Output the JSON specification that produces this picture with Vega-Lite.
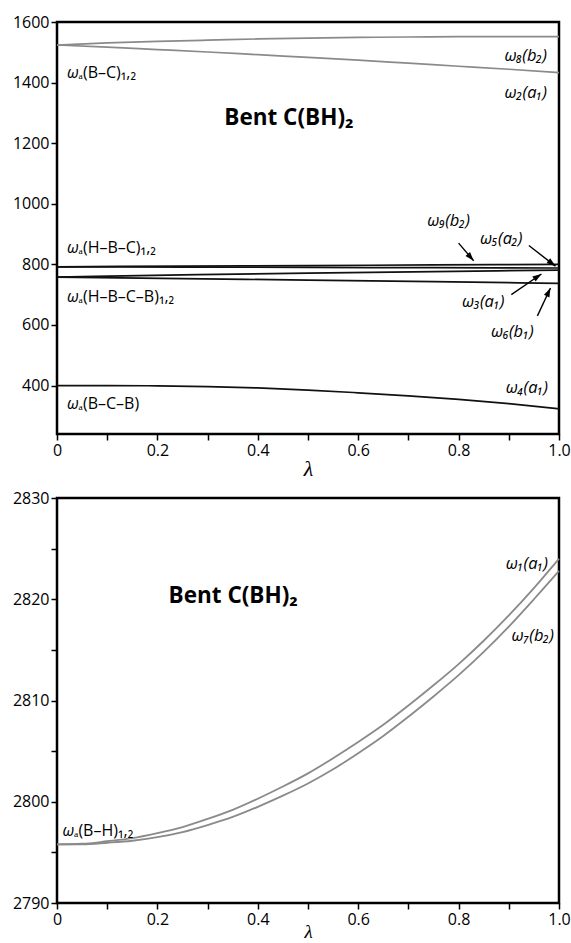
{
  "$schema": "https://vega.github.io/schema/vega-lite/v6.json",
  "padding": {"left": 11, "top": 12, "right": 4, "bottom": 0},
  "datasets": {
    "top_lines": [
      {"mode": "w8", "lam": 0, "val": 1524}, {"mode": "w8", "lam": 0.1, "val": 1531}, {"mode": "w8", "lam": 0.2, "val": 1536}, {"mode": "w8", "lam": 0.3, "val": 1540}, {"mode": "w8", "lam": 0.4, "val": 1544}, {"mode": "w8", "lam": 0.5, "val": 1547}, {"mode": "w8", "lam": 0.6, "val": 1549}, {"mode": "w8", "lam": 0.7, "val": 1550.5}, {"mode": "w8", "lam": 0.8, "val": 1551.5}, {"mode": "w8", "lam": 0.9, "val": 1552}, {"mode": "w8", "lam": 1.0, "val": 1552},
      {"mode": "w2", "lam": 0, "val": 1524}, {"mode": "w2", "lam": 0.1, "val": 1517}, {"mode": "w2", "lam": 0.2, "val": 1509}, {"mode": "w2", "lam": 0.3, "val": 1501}, {"mode": "w2", "lam": 0.4, "val": 1492}, {"mode": "w2", "lam": 0.5, "val": 1483}, {"mode": "w2", "lam": 0.6, "val": 1474}, {"mode": "w2", "lam": 0.7, "val": 1464}, {"mode": "w2", "lam": 0.8, "val": 1454}, {"mode": "w2", "lam": 0.9, "val": 1444}, {"mode": "w2", "lam": 1.0, "val": 1433},
      {"mode": "w9", "lam": 0, "val": 792}, {"mode": "w9", "lam": 0.25, "val": 794}, {"mode": "w9", "lam": 0.5, "val": 796}, {"mode": "w9", "lam": 0.75, "val": 798}, {"mode": "w9", "lam": 1.0, "val": 800},
      {"mode": "w5", "lam": 0, "val": 792}, {"mode": "w5", "lam": 0.25, "val": 791}, {"mode": "w5", "lam": 0.5, "val": 790}, {"mode": "w5", "lam": 0.75, "val": 789}, {"mode": "w5", "lam": 1.0, "val": 788},
      {"mode": "w3", "lam": 0, "val": 758}, {"mode": "w3", "lam": 0.25, "val": 765}, {"mode": "w3", "lam": 0.5, "val": 771}, {"mode": "w3", "lam": 0.75, "val": 776}, {"mode": "w3", "lam": 1.0, "val": 781},
      {"mode": "w6", "lam": 0, "val": 758}, {"mode": "w6", "lam": 0.25, "val": 753}, {"mode": "w6", "lam": 0.5, "val": 748}, {"mode": "w6", "lam": 0.75, "val": 743}, {"mode": "w6", "lam": 1.0, "val": 737},
      {"mode": "w4", "lam": 0, "val": 400}, {"mode": "w4", "lam": 0.1, "val": 400}, {"mode": "w4", "lam": 0.2, "val": 399}, {"mode": "w4", "lam": 0.3, "val": 396.5}, {"mode": "w4", "lam": 0.4, "val": 392}, {"mode": "w4", "lam": 0.5, "val": 385}, {"mode": "w4", "lam": 0.6, "val": 376}, {"mode": "w4", "lam": 0.7, "val": 366}, {"mode": "w4", "lam": 0.8, "val": 354}, {"mode": "w4", "lam": 0.9, "val": 340}, {"mode": "w4", "lam": 1.0, "val": 323}
    ],
    "top_left_labels": [
      {"lam": 0.02, "val": 1433, "sym": "ω", "rest": "ₐ(B–C)₁,₂"},
      {"lam": 0.02, "val": 855, "sym": "ω", "rest": "ₐ(H–B–C)₁,₂"},
      {"lam": 0.02, "val": 693, "sym": "ω", "rest": "ₐ(H–B–C–B)₁,₂"},
      {"lam": 0.02, "val": 338, "sym": "ω", "rest": "ₐ(B–C–B)"}
    ],
    "top_right_labels": [
      {"lam": 0.976, "val": 1489, "label": "ω₈(b₂)"},
      {"lam": 0.976, "val": 1364, "label": "ω₂(a₁)"},
      {"lam": 0.978, "val": 393, "label": "ω₄(a₁)"}
    ],
    "top_center_labels": [
      {"lam": 0.78, "val": 942, "label": "ω₉(b₂)"},
      {"lam": 0.885, "val": 885, "label": "ω₅(a₂)"},
      {"lam": 0.849, "val": 675, "label": "ω₃(a₁)"},
      {"lam": 0.907, "val": 578, "label": "ω₆(b₁)"}
    ],
    "top_title": [{"lam": 0.462, "val": 1283, "label": "Bent C(BH)₂"}],
    "arrows": [
      {"name": "w9", "lam": 0.80, "val": 870, "lam2": 0.83, "val2": 812},
      {"name": "w5", "lam": 0.94, "val": 862, "lam2": 0.993, "val2": 794},
      {"name": "w3", "lam": 0.905, "val": 700, "lam2": 0.965, "val2": 768},
      {"name": "w6", "lam": 0.957, "val": 630, "lam2": 0.983, "val2": 722}
    ],
    "bot_lines": [
      {"mode": "w1", "lam": 0, "val": 2795.8}, {"mode": "w1", "lam": 0.05, "val": 2795.85}, {"mode": "w1", "lam": 0.1, "val": 2796.1}, {"mode": "w1", "lam": 0.15, "val": 2796.4}, {"mode": "w1", "lam": 0.2, "val": 2796.9}, {"mode": "w1", "lam": 0.25, "val": 2797.5}, {"mode": "w1", "lam": 0.3, "val": 2798.3}, {"mode": "w1", "lam": 0.35, "val": 2799.2}, {"mode": "w1", "lam": 0.4, "val": 2800.3}, {"mode": "w1", "lam": 0.45, "val": 2801.5}, {"mode": "w1", "lam": 0.5, "val": 2802.8}, {"mode": "w1", "lam": 0.55, "val": 2804.3}, {"mode": "w1", "lam": 0.6, "val": 2805.9}, {"mode": "w1", "lam": 0.65, "val": 2807.6}, {"mode": "w1", "lam": 0.7, "val": 2809.5}, {"mode": "w1", "lam": 0.75, "val": 2811.5}, {"mode": "w1", "lam": 0.8, "val": 2813.6}, {"mode": "w1", "lam": 0.85, "val": 2815.9}, {"mode": "w1", "lam": 0.9, "val": 2818.4}, {"mode": "w1", "lam": 0.95, "val": 2821.1}, {"mode": "w1", "lam": 1.0, "val": 2824.0},
      {"mode": "w7", "lam": 0, "val": 2795.8}, {"mode": "w7", "lam": 0.05, "val": 2795.8}, {"mode": "w7", "lam": 0.1, "val": 2795.95}, {"mode": "w7", "lam": 0.15, "val": 2796.15}, {"mode": "w7", "lam": 0.2, "val": 2796.5}, {"mode": "w7", "lam": 0.25, "val": 2797.0}, {"mode": "w7", "lam": 0.3, "val": 2797.7}, {"mode": "w7", "lam": 0.35, "val": 2798.5}, {"mode": "w7", "lam": 0.4, "val": 2799.5}, {"mode": "w7", "lam": 0.45, "val": 2800.6}, {"mode": "w7", "lam": 0.5, "val": 2801.8}, {"mode": "w7", "lam": 0.55, "val": 2803.2}, {"mode": "w7", "lam": 0.6, "val": 2804.8}, {"mode": "w7", "lam": 0.65, "val": 2806.5}, {"mode": "w7", "lam": 0.7, "val": 2808.4}, {"mode": "w7", "lam": 0.75, "val": 2810.4}, {"mode": "w7", "lam": 0.8, "val": 2812.5}, {"mode": "w7", "lam": 0.85, "val": 2814.8}, {"mode": "w7", "lam": 0.9, "val": 2817.3}, {"mode": "w7", "lam": 0.95, "val": 2820.0}, {"mode": "w7", "lam": 1.0, "val": 2822.8}
    ],
    "bot_left_labels": [{"lam": 0.011, "val": 2797.1, "sym": "ω", "rest": "ₐ(B–H)₁,₂"}],
    "bot_right_labels": [
      {"lam": 0.978, "val": 2823.5, "label": "ω₁(a₁)"},
      {"lam": 0.99, "val": 2816.4, "label": "ω₇(b₂)"}
    ],
    "bot_title": [{"lam": 0.351, "val": 2820.3, "label": "Bent C(BH)₂"}]
  },
  "vconcat": [
    {
      "width": 502,
      "height": 412,
      "layer": [
        {
          "data": {"name": "top_lines"},
          "mark": {"type": "line", "strokeWidth": 1.7, "interpolate": "monotone"},
          "encoding": {
            "x": {"field": "lam", "type": "quantitative", "scale": {"domain": [0, 1], "nice": false},
              "axis": {"values": [0, 0.1, 0.2, 0.3, 0.4, 0.5, 0.6, 0.7, 0.8, 0.9, 1], "labelExpr": "datum.value === 0 ? '0' : (round(datum.value*10) % 2 === 0 ? format(datum.value, '.1f') : '')", "title": "λ"}},
            "y": {"field": "val", "type": "quantitative", "scale": {"domain": [240, 1600], "nice": false, "zero": false},
              "axis": {"values": [400, 600, 800, 1000, 1200, 1400, 1600], "format": "d", "title": null}},
            "color": {"field": "mode", "type": "nominal", "legend": null,
              "scale": {"domain": ["w8", "w2", "w9", "w5", "w3", "w6", "w4"], "range": ["#8a8a8a", "#8a8a8a", "#111111", "#111111", "#111111", "#111111", "#111111"]}}
          }
        },
        {
          "data": {"name": "top_left_labels"},
          "mark": {"type": "text", "align": "left", "fontSize": 16, "fontStyle": "italic", "font": "Open Sans"},
          "encoding": {"x": {"field": "lam", "type": "quantitative"}, "y": {"field": "val", "type": "quantitative"}, "text": {"field": "sym"}}
        },
        {
          "data": {"name": "top_left_labels"},
          "mark": {"type": "text", "align": "left", "fontSize": 16, "dx": 11.5, "font": "Open Sans"},
          "encoding": {"x": {"field": "lam", "type": "quantitative"}, "y": {"field": "val", "type": "quantitative"}, "text": {"field": "rest"}}
        },
        {
          "data": {"name": "top_right_labels"},
          "mark": {"type": "text", "align": "right", "fontSize": 16.5, "fontStyle": "italic", "font": "Open Sans"},
          "encoding": {"x": {"field": "lam", "type": "quantitative"}, "y": {"field": "val", "type": "quantitative"}, "text": {"field": "label"}}
        },
        {
          "data": {"name": "top_center_labels"},
          "mark": {"type": "text", "align": "center", "fontSize": 16.5, "fontStyle": "italic", "font": "Open Sans"},
          "encoding": {"x": {"field": "lam", "type": "quantitative"}, "y": {"field": "val", "type": "quantitative"}, "text": {"field": "label"}}
        },
        {
          "data": {"name": "top_title"},
          "mark": {"type": "text", "align": "center", "fontSize": 22.5, "fontWeight": "bold", "font": "Open Sans"},
          "encoding": {"x": {"field": "lam", "type": "quantitative"}, "y": {"field": "val", "type": "quantitative"}, "text": {"field": "label"}}
        },
        {
          "data": {"name": "arrows"},
          "mark": {"type": "rule", "color": "black", "strokeWidth": 1.4},
          "encoding": {"x": {"field": "lam", "type": "quantitative"}, "y": {"field": "val", "type": "quantitative"}, "x2": {"field": "lam2"}, "y2": {"field": "val2"}}
        },
        {
          "data": {"name": "arrows"},
          "transform": [{"filter": "datum.name === 'w9'"}],
          "mark": {"type": "point", "shape": "M0,0L-0.6,1.8L0.6,1.8Z", "filled": true, "color": "black", "opacity": 1, "size": 100, "angle": 139},
          "encoding": {"x": {"field": "lam2", "type": "quantitative"}, "y": {"field": "val2", "type": "quantitative"}}
        },
        {
          "data": {"name": "arrows"},
          "transform": [{"filter": "datum.name === 'w5'"}],
          "mark": {"type": "point", "shape": "M0,0L-0.6,1.8L0.6,1.8Z", "filled": true, "color": "black", "opacity": 1, "size": 100, "angle": 128},
          "encoding": {"x": {"field": "lam2", "type": "quantitative"}, "y": {"field": "val2", "type": "quantitative"}}
        },
        {
          "data": {"name": "arrows"},
          "transform": [{"filter": "datum.name === 'w3'"}],
          "mark": {"type": "point", "shape": "M0,0L-0.6,1.8L0.6,1.8Z", "filled": true, "color": "black", "opacity": 1, "size": 100, "angle": 56},
          "encoding": {"x": {"field": "lam2", "type": "quantitative"}, "y": {"field": "val2", "type": "quantitative"}}
        },
        {
          "data": {"name": "arrows"},
          "transform": [{"filter": "datum.name === 'w6'"}],
          "mark": {"type": "point", "shape": "M0,0L-0.6,1.8L0.6,1.8Z", "filled": true, "color": "black", "opacity": 1, "size": 100, "angle": 25},
          "encoding": {"x": {"field": "lam2", "type": "quantitative"}, "y": {"field": "val2", "type": "quantitative"}}
        }
      ]
    },
    {
      "width": 502,
      "height": 405,
      "layer": [
        {
          "data": {"name": "bot_lines"},
          "mark": {"type": "line", "strokeWidth": 1.8, "interpolate": "monotone", "color": "#8a8a8a"},
          "encoding": {
            "x": {"field": "lam", "type": "quantitative", "scale": {"domain": [0, 1], "nice": false},
              "axis": {"values": [0, 0.1, 0.2, 0.3, 0.4, 0.5, 0.6, 0.7, 0.8, 0.9, 1], "labelExpr": "datum.value === 0 ? '0' : (round(datum.value*10) % 2 === 0 ? format(datum.value, '.1f') : '')", "title": "λ", "titlePadding": -5, "titleFontSize": 19}},
            "y": {"field": "val", "type": "quantitative", "scale": {"domain": [2790, 2830], "nice": false, "zero": false},
              "axis": {"values": [2790, 2795, 2800, 2805, 2810, 2815, 2820, 2825, 2830], "labelExpr": "datum.value % 10 === 0 ? format(datum.value, 'd') : ''", "title": null}},
            "detail": {"field": "mode", "type": "nominal"}
          }
        },
        {
          "data": {"name": "bot_left_labels"},
          "mark": {"type": "text", "align": "left", "fontSize": 16, "fontStyle": "italic", "font": "Open Sans"},
          "encoding": {"x": {"field": "lam", "type": "quantitative"}, "y": {"field": "val", "type": "quantitative"}, "text": {"field": "sym"}}
        },
        {
          "data": {"name": "bot_left_labels"},
          "mark": {"type": "text", "align": "left", "fontSize": 16, "dx": 11.5, "font": "Open Sans"},
          "encoding": {"x": {"field": "lam", "type": "quantitative"}, "y": {"field": "val", "type": "quantitative"}, "text": {"field": "rest"}}
        },
        {
          "data": {"name": "bot_right_labels"},
          "mark": {"type": "text", "align": "right", "fontSize": 16.5, "fontStyle": "italic", "font": "Open Sans"},
          "encoding": {"x": {"field": "lam", "type": "quantitative"}, "y": {"field": "val", "type": "quantitative"}, "text": {"field": "label"}}
        },
        {
          "data": {"name": "bot_title"},
          "mark": {"type": "text", "align": "center", "fontSize": 22.5, "fontWeight": "bold", "font": "Open Sans"},
          "encoding": {"x": {"field": "lam", "type": "quantitative"}, "y": {"field": "val", "type": "quantitative"}, "text": {"field": "label"}}
        }
      ]
    }
  ],
  "spacing": 64,
  "bounds": "flush",
  "config": {
    "background": "white",
    "font": "Open Sans",
    "view": {"stroke": "black", "strokeWidth": 2.5},
    "axis": {
      "domain": false, "grid": false,
      "tickColor": "black", "tickWidth": 1.5, "tickSize": 6,
      "labelFont": "Open Sans", "labelFontSize": 16, "labelColor": "black", "labelPadding": 2,
      "labelFlush": false, "labelOverlap": false,
      "titleFont": "Liberation Serif", "titleFontStyle": "italic", "titleFontSize": 22, "titleFontWeight": "normal", "titleColor": "black", "titlePadding": 0
    }
  }
}
